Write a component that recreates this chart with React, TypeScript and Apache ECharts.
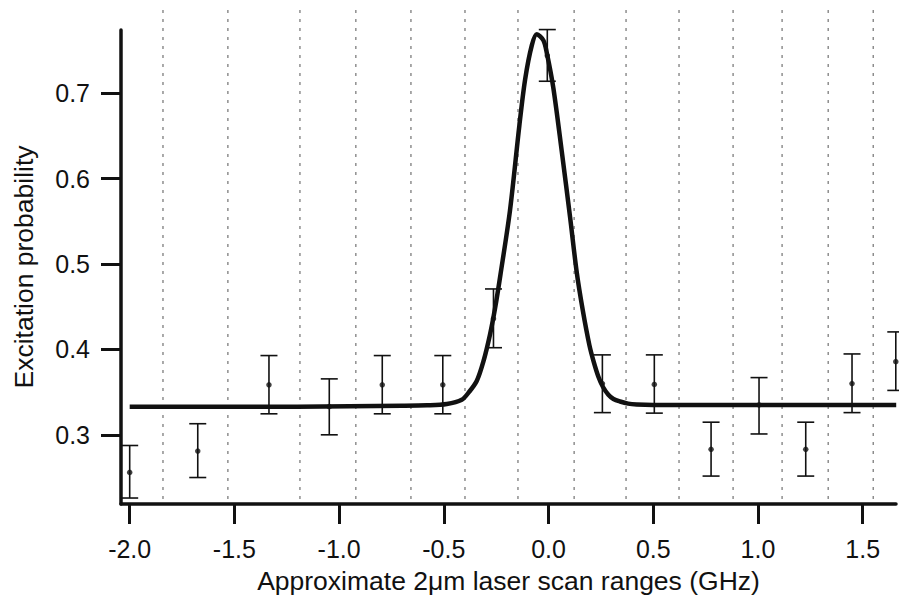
import React, { useEffect, useRef } from "react";
import * as echarts from "echarts";

// x positions of dashed scan-range boundaries (GHz)
const scanBoundaries = [-1.841, -1.531, -1.187, -0.92, -0.657, -0.399, -0.146, 0.122, 0.37, 0.623, 0.881, 1.115, 1.335, 1.55];

// measured points: x (GHz), probability, lower bound, upper bound
const pointX = [-2.0, -1.675, -1.335, -1.047, -0.794, -0.505, -0.263, -0.006, 0.257, 0.505, 0.776, 1.005, 1.228, 1.449, 1.658];
const pointY = [0.256, 0.281, 0.3585, 0.333, 0.3585, 0.3585, 0.436, 0.744, 0.36, 0.359, 0.283, 0.335, 0.283, 0.36, 0.3857];
const errLow = [0.226, 0.25, 0.3246, 0.3, 0.3246, 0.3246, 0.402, 0.714, 0.326, 0.3254, 0.2517, 0.301, 0.2517, 0.326, 0.352];
const errHigh = [0.2875, 0.313, 0.3928, 0.3655, 0.3928, 0.3928, 0.4708, 0.7745, 0.3936, 0.3936, 0.3148, 0.367, 0.3148, 0.3947, 0.4205];

// fitted curve
const fitX = [-2.0, -1.2, -0.7, -0.58, -0.486, -0.4145, -0.38, -0.343, -0.311, -0.28, -0.2555, -0.23, -0.184, -0.1395, -0.112, -0.08, -0.056, -0.025, -0.009, 0.023, 0.063, 0.1027, 0.1347, 0.1633, 0.195, 0.215, 0.238, 0.26, 0.2856, 0.31, 0.3414, 0.38, 0.421, 0.5, 0.7, 1.66];
const fitY = [0.333, 0.333, 0.334, 0.3345, 0.336, 0.341, 0.350, 0.363, 0.386, 0.417, 0.448, 0.487, 0.563, 0.662, 0.716, 0.756, 0.769, 0.762, 0.748, 0.706, 0.632, 0.555, 0.490, 0.446, 0.405, 0.386, 0.368, 0.356, 0.347, 0.342, 0.339, 0.3365, 0.3355, 0.335, 0.335, 0.335];

const xTicks = [-2.0, -1.5, -1.0, -0.5, 0.0, 0.5, 1.0, 1.5];
const yTicks = [0.3, 0.4, 0.5, 0.6, 0.7];

const X_MIN = -2.0415;
const X_MAX = 1.659;
const Y_MIN = 0.219;
const Y_MAX = 0.774;

const FONT = "'Liberation Sans', Arial, Helvetica, sans-serif";

export default function App() {
  const ref = useRef<HTMLDivElement>(null);

  useEffect(() => {
    if (!ref.current) return;
    const chart = echarts.init(ref.current, null, { renderer: "svg" });

    const errData = pointX.map((x, i) => [x, errLow[i], errHigh[i]]);
    const ptData = pointX.map((x, i) => [x, pointY[i]]);
    const fitData = fitX.map((x, i) => [x, fitY[i]]);
    const dashData = scanBoundaries.map((x) => [x]);

    const option: any = {
      animation: false,
      backgroundColor: "#ffffff",
      textStyle: { fontFamily: FONT },
      grid: [
        { left: 121, right: 3, top: 30, bottom: 93, outerBoundsMode: "none", containLabel: false },
        { left: 121, right: 3, top: 10, bottom: 97, outerBoundsMode: "none", containLabel: false },
      ],
      xAxis: [
        {
          type: "value",
          gridIndex: 0,
          min: X_MIN,
          max: X_MAX,
          name: "Approximate 2μm laser scan ranges (GHz)",
          nameLocation: "middle",
          nameGap: 63,
          nameTextStyle: { fontSize: 26.5, color: "#111", fontFamily: FONT },
          axisLine: { show: true, onZero: false, lineStyle: { color: "#111", width: 3.5 } },
          axisTick: { show: true, inside: false, length: 20, customValues: xTicks, lineStyle: { color: "#111", width: 3 } },
          axisLabel: {
            show: true,
            customValues: xTicks,
            margin: 32,
            fontSize: 25,
            color: "#111",
            fontFamily: FONT,
            formatter: (v: number) => v.toFixed(1),
          },
          splitLine: { show: false },
        },
        {
          type: "value",
          gridIndex: 1,
          min: X_MIN,
          max: X_MAX,
          show: false,
        },
      ],
      yAxis: [
        {
          type: "value",
          gridIndex: 0,
          min: Y_MIN,
          max: Y_MAX,
          name: "Excitation probability",
          nameLocation: "middle",
          nameGap: 84,
          nameTextStyle: { fontSize: 26.5, color: "#111", fontFamily: FONT },
          axisLine: { show: true, onZero: false, lineStyle: { color: "#111", width: 3.5 } },
          axisTick: { show: true, inside: false, length: 20, customValues: yTicks, lineStyle: { color: "#111", width: 3 } },
          axisLabel: {
            show: true,
            customValues: yTicks,
            margin: 31,
            fontSize: 25,
            color: "#111",
            fontFamily: FONT,
            formatter: (v: number) => v.toFixed(1),
          },
          splitLine: { show: false },
        },
        {
          type: "value",
          gridIndex: 1,
          min: 0,
          max: 1,
          show: false,
        },
      ],
      series: [
        {
          type: "custom",
          name: "boundaries",
          xAxisIndex: 1,
          yAxisIndex: 1,
          data: dashData,
          clip: false,
          silent: true,
          z: 1,
          encode: { x: 0 },
          renderItem: (params: any, api: any) => {
            const x = api.value(0);
            const p1 = api.coord([x, 1]);
            const p2 = api.coord([x, 0]);
            return {
              type: "line",
              shape: { x1: p1[0], y1: p1[1], x2: p2[0], y2: p2[1] },
              style: { stroke: "#555", lineWidth: 1, lineDash: [3, 6] },
            };
          },
        },
        {
          type: "custom",
          name: "errors",
          xAxisIndex: 0,
          yAxisIndex: 0,
          data: errData,
          clip: false,
          z: 3,
          encode: { x: 0, y: [1, 2] },
          renderItem: (params: any, api: any) => {
            const x = api.value(0);
            const lo = api.coord([x, api.value(1)]);
            const hi = api.coord([x, api.value(2)]);
            const hw = 8.5;
            const st = { stroke: "#111", lineWidth: 1.6 };
            return {
              type: "group",
              children: [
                { type: "line", shape: { x1: lo[0], y1: lo[1], x2: hi[0], y2: hi[1] }, style: st },
                { type: "line", shape: { x1: lo[0] - hw, y1: lo[1], x2: lo[0] + hw, y2: lo[1] }, style: st },
                { type: "line", shape: { x1: hi[0] - hw, y1: hi[1], x2: hi[0] + hw, y2: hi[1] }, style: st },
              ],
            };
          },
        },
        {
          type: "scatter",
          name: "points",
          xAxisIndex: 0,
          yAxisIndex: 0,
          data: ptData,
          symbol: "circle",
          symbolSize: 5.5,
          itemStyle: { color: "#111" },
          clip: false,
          z: 4,
        },
        {
          type: "line",
          name: "fit",
          xAxisIndex: 0,
          yAxisIndex: 0,
          data: fitData,
          showSymbol: false,
          smooth: 0.3,
          lineStyle: { color: "#111", width: 4.5 },
          clip: false,
          z: 5,
        },
      ],
    };

    chart.setOption(option);
    return () => {
      chart.dispose();
    };
  }, []);

  return (
    <div
      ref={ref}
      style={{ position: "fixed", left: 0, top: 0, width: 899, height: 597, background: "#fff" }}
    />
  );
}
